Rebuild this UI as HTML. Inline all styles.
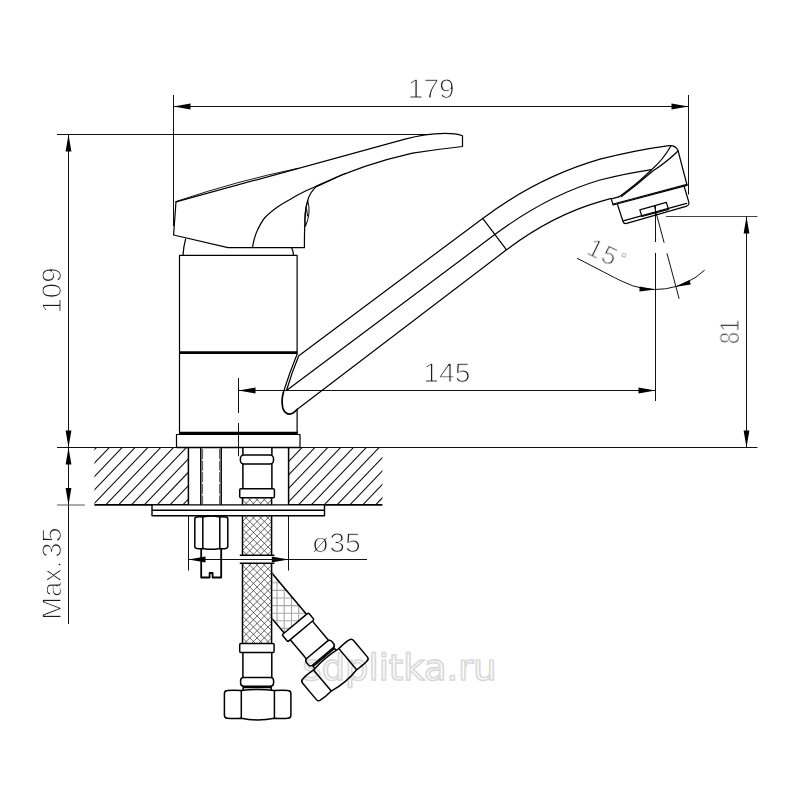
<!DOCTYPE html>
<html lang="en"><head><meta charset="utf-8"><title>Faucet dimensions</title>
<style>
html,body{margin:0;padding:0;background:#fff;}
body{width:800px;height:800px;overflow:hidden;}
svg{display:block}
.d{font-family:"Liberation Sans","DejaVu Sans",sans-serif;font-size:27.2px;fill:#1c1c1c;stroke:#fff;stroke-width:1.08px;text-rendering:geometricPrecision;}
.wm{font-family:"DejaVu Sans","Liberation Sans",sans-serif;font-size:36px;fill:none;stroke:#d9d9d9;stroke-width:1.6px;text-rendering:geometricPrecision;}
</style></head><body>
<svg width="800" height="800" viewBox="0 0 800 800">
<rect width="800" height="800" fill="#fff"/>

<defs>
<clipPath id="cL"><rect x="94.4" y="447.3" width="93.8" height="57.5"/></clipPath>
<clipPath id="cR"><rect x="288.7" y="447.3" width="93.7" height="57.5"/></clipPath>
<clipPath id="cH1"><rect x="242.5" y="497.7" width="29.10" height="7"/><rect x="242.5" y="515.8" width="29.10" height="39.7"/><rect x="242.5" y="563.2" width="29.10" height="80"/></clipPath>
<clipPath id="cH2"><rect x="242.5" y="540" width="29.10" height="103.3"/></clipPath>
<clipPath id="cX"><rect x="272.3" y="540" width="200" height="200"/></clipPath>
</defs>
<g stroke="#0a0a0a" stroke-width="1.05" fill="none">
<g clip-path="url(#cL)">
<line x1="24.87" y1="508.80" x2="87.73" y2="443.20"/>
<line x1="37.72" y1="508.80" x2="100.58" y2="443.20"/>
<line x1="50.57" y1="508.80" x2="113.43" y2="443.20"/>
<line x1="63.42" y1="508.80" x2="126.28" y2="443.20"/>
<line x1="76.27" y1="508.80" x2="139.13" y2="443.20"/>
<line x1="89.12" y1="508.80" x2="151.98" y2="443.20"/>
<line x1="101.97" y1="508.80" x2="164.83" y2="443.20"/>
<line x1="114.82" y1="508.80" x2="177.68" y2="443.20"/>
<line x1="127.67" y1="508.80" x2="190.53" y2="443.20"/>
<line x1="140.52" y1="508.80" x2="203.38" y2="443.20"/>
<line x1="153.37" y1="508.80" x2="216.23" y2="443.20"/>
<line x1="166.22" y1="508.80" x2="229.08" y2="443.20"/>
<line x1="179.07" y1="508.80" x2="241.93" y2="443.20"/>
<line x1="191.92" y1="508.80" x2="254.78" y2="443.20"/>
</g>
<g clip-path="url(#cR)">
<line x1="217.62" y1="508.80" x2="280.48" y2="443.20"/>
<line x1="230.47" y1="508.80" x2="293.33" y2="443.20"/>
<line x1="243.32" y1="508.80" x2="306.18" y2="443.20"/>
<line x1="256.17" y1="508.80" x2="319.03" y2="443.20"/>
<line x1="269.02" y1="508.80" x2="331.88" y2="443.20"/>
<line x1="281.87" y1="508.80" x2="344.73" y2="443.20"/>
<line x1="294.72" y1="508.80" x2="357.58" y2="443.20"/>
<line x1="307.57" y1="508.80" x2="370.43" y2="443.20"/>
<line x1="320.42" y1="508.80" x2="383.28" y2="443.20"/>
<line x1="333.27" y1="508.80" x2="396.13" y2="443.20"/>
<line x1="346.12" y1="508.80" x2="408.98" y2="443.20"/>
<line x1="358.97" y1="508.80" x2="421.83" y2="443.20"/>
<line x1="371.82" y1="508.80" x2="434.68" y2="443.20"/>
<line x1="384.67" y1="508.80" x2="447.53" y2="443.20"/>
</g>
</g>
<g stroke="#111" stroke-width="1" fill="none">
<line x1="173.5" y1="106.5" x2="688.5" y2="106.5"/>
<line x1="173.5" y1="95" x2="173.5" y2="226"/>
<line x1="688.5" y1="95" x2="688.5" y2="194.5"/>
<line x1="57" y1="134.5" x2="432" y2="134.5"/>
<line x1="68.5" y1="134.5" x2="68.5" y2="624"/>
<line x1="57" y1="447.5" x2="757.5" y2="447.5"/>
<line x1="57" y1="505" x2="84.8" y2="505" stroke="#555"/>
<line x1="238.5" y1="390.5" x2="655.5" y2="390.5"/>
<line x1="238.5" y1="378" x2="238.5" y2="413"/>
<line x1="238.5" y1="423" x2="238.5" y2="456.3"/>
<line x1="655.5" y1="206" x2="655.5" y2="242"/>
<line x1="655.5" y1="253" x2="655.5" y2="401"/>
<line x1="666" y1="216.5" x2="757.5" y2="216.5" stroke="#444"/>
<line x1="746.5" y1="216.5" x2="746.5" y2="447.5"/>
<line x1="188.5" y1="559.5" x2="367" y2="559.5"/>
<line x1="188.5" y1="515.8" x2="188.5" y2="570.5"/>
<line x1="288.5" y1="515.8" x2="288.5" y2="570.5"/>
<path d="M577,258.2 L614.81,277.75 Q619.81,280.25 622.81,281.65 A72,72 0 0 0 704.60,270.16"/>
<line x1="654.30" y1="206.00" x2="664.14" y2="242.71"/>
<line x1="666.98" y1="253.33" x2="679.15" y2="298.73"/>
</g>
<g fill="#000" stroke="none">
<polygon points="173.50,106.50 190.50,103.60 190.50,109.40"/>
<polygon points="688.50,106.50 671.50,109.40 671.50,103.60"/>
<polygon points="68.50,134.50 71.40,151.50 65.60,151.50"/>
<polygon points="68.50,447.50 65.60,430.50 71.40,430.50"/>
<polygon points="68.50,447.50 71.40,464.50 65.60,464.50"/>
<polygon points="68.50,505.00 65.60,488.00 71.40,488.00"/>
<polygon points="238.50,390.50 255.50,387.60 255.50,393.40"/>
<polygon points="655.50,390.50 638.50,393.40 638.50,387.60"/>
<polygon points="746.50,216.50 749.40,233.50 743.60,233.50"/>
<polygon points="746.50,447.50 743.60,430.50 749.40,430.50"/>
<polygon points="188.50,559.50 205.50,556.60 205.50,562.40"/>
<polygon points="288.50,559.50 271.50,562.40 271.50,556.60"/>
<polygon points="655.50,289.50 639.44,291.42 639.58,286.62"/>
<polygon points="674.74,286.88 689.38,279.99 690.76,284.58"/>
</g>
<g stroke="#000" stroke-width="1.2" fill="none" stroke-linejoin="round" stroke-linecap="round">
<path d="M176,201.6 L173.6,235 L228,247.6 L304.3,247.6"/>
<path d="M176,201.9 L405,139.2 Q425,133.7 445,133.4 Q456,133.4 462.5,135.8 L462.5,146.5 Q438,149.2 412.5,153.2 Q362,164.5 317.5,185.6"/>
<path d="M177,201.2 Q236,181.2 298,168.3" stroke-width="0.9"/>
<path d="M317.5,186.4 L345,173.6" stroke-width="1"/>
<path d="M317.50,185.60 C315.00,186.75 307.08,190.20 302.50,192.50 C297.92,194.80 294.17,197.00 290.00,199.40 C285.83,201.80 281.67,203.88 277.50,206.90 C273.33,209.92 268.33,213.65 265.00,217.50 C261.67,221.35 259.33,226.25 257.50,230.00 C255.67,233.75 254.83,237.07 254.00,240.00 C253.17,242.93 252.75,246.33 252.50,247.60"/>
<path d="M317.5,185.6 Q309.5,192 307.2,202 Q304.4,212 304.4,247.6"/>
<path d="M307.8,201 Q311.4,213 305.4,226.5 Q303.4,213 307.8,201 M306.6,209 L307.6,216" stroke-width="1"/>
<path d="M185.6,239 Q183.4,247 183,255.4"/>
<path d="M291.6,247.6 Q293.2,251 293.6,255.4"/>
<path d="M297.1,354.5 L297.1,255.4 L179.5,255.4 L179.5,432.5"/>
<path d="M297.1,410 L297.1,432.5"/>
<path d="M176.5,447.3 L176.5,434.5 L300,434.5 L300,447.3"/>
</g>
<g stroke="#000" fill="none">
<line x1="179.5" y1="352.6" x2="297.3" y2="352.7" stroke-width="2.7"/>
<line x1="179" y1="433.1" x2="297.8" y2="433.1" stroke-width="2.9"/>
<line x1="176.5" y1="447.5" x2="300" y2="447.5" stroke-width="1.5"/>
</g>
<g stroke="#000" stroke-width="1.2" fill="none" stroke-linejoin="round" stroke-linecap="round">
<path d="M298.5,356 L482.7,218.4 Q538,177.2 600,159.2 Q636,150 669,145.6 Q675.5,145 678,150.5 L687,185"/>
<path d="M286.5,390.5 L494.8,234.6 Q547,195.6 600,180 Q628,173 651.5,169.6"/>
<path d="M297,409.5 L506.5,249.8 Q552,215.4 600,201.6 L611.3,198.4"/>
<path d="M482.7,218.4 L506.5,249.8"/>
<path d="M296.8,355 Q289.3,373 283.5,392"/>
<path d="M298.5,356.6 Q291.6,373 286.5,390.5"/>
<path d="M283.5,392 Q281.1,400 282.8,408 Q284.6,413.8 289.5,414.2 Q293,414 297,409.5" stroke-width="1.7"/>
<path d="M611.3,198.8 L613.1,205 L687,185.4"/>
<path d="M613.4,204 L687,184.4"/>
<path d="M611.3,198.8 L618.8,196.9"/>
<path d="M671,145.8 Q663,160 651.3,170 Q636,185 618.8,196.9"/>
<path d="M678,151 Q668,161 652.5,171.3 Q638,184 621.5,196.6"/>
<path d="M617.5,204.5 L623,221.5 Q623.6,223.6 625.8,223.6 L686,206.4 Q689.6,205 688.8,202 L684.2,186.5"/>
<path d="M623.2,220.8 L686.6,203.4"/>
<path d="M639.8,209.8 L666.3,202.3 L668.5,209.4 L641.9,216.5 Z"/>
</g>
<g style="opacity:.999"><text class="wm" x="302.6" y="679.6" textLength="194" lengthAdjust="spacingAndGlyphs">sdplitka.ru</text></g>
<g clip-path="url(#cX)">
<g transform="translate(295.2 623.8) rotate(-40) translate(-256.9 -643.5)" stroke="#000" stroke-width="1.5" fill="none" stroke-linejoin="round">
<g clip-path="url(#cH2)"><g transform="translate(256.9 643.5) rotate(40) translate(-295.2 -623.8)" stroke="#a8a8a8" stroke-width="1.1">
<line x1="277.00" y1="560" x2="277.00" y2="650"/>
<line x1="284.24" y1="560" x2="284.24" y2="650"/>
<line x1="291.48" y1="560" x2="291.48" y2="650"/>
<line x1="298.72" y1="560" x2="298.72" y2="650"/>
<line x1="305.96" y1="560" x2="305.96" y2="650"/>
<line x1="313.20" y1="560" x2="313.20" y2="650"/>
<line x1="320.44" y1="560" x2="320.44" y2="650"/>
<line x1="327.68" y1="560" x2="327.68" y2="650"/>
<line x1="265" y1="582.80" x2="330" y2="582.80"/>
<line x1="265" y1="590.40" x2="330" y2="590.40"/>
<line x1="265" y1="598.00" x2="330" y2="598.00"/>
<line x1="265" y1="605.60" x2="330" y2="605.60"/>
<line x1="265" y1="613.20" x2="330" y2="613.20"/>
<line x1="265" y1="620.80" x2="330" y2="620.80"/>
<line x1="265" y1="628.40" x2="330" y2="628.40"/>
<line x1="265" y1="636.00" x2="330" y2="636.00"/>
<line x1="265" y1="643.60" x2="330" y2="643.60"/>
</g></g>
<path d="M242.5,540 L242.5,643.5 M271.6,540 L271.6,643.5"/>
<rect x="239.7" y="643.5" width="34.4" height="9" rx="1.3"/><path d="M242.9,652.5 L242.9,677.5 M271.8,652.5 L271.8,677.5"/><rect x="240.6" y="677.5" width="33" height="8.8" rx="3.2"/><path d="M243.2,686.3 L243.2,690 M271.2,686.3 L271.2,690 M243.2,687.6 L271.2,687.6"/><path d="M227.4,690.6 Q233,689.8 241.3,690.6 Q257.8,688.2 274.4,690.6 Q283,689.8 287.9,690.6 Q290.9,690.8 290.9,693.8 L290.9,715.2 Q290.9,718 287.9,718.2 Q283,719 274.4,718.2 Q257.8,721.6 241.3,718.2 Q233,719 227.4,718.2 Q224.4,718 224.4,715.2 L224.4,693.8 Q224.4,690.8 227.4,690.6 Z"/><path d="M241.3,690.6 L241.3,718.2 M274.4,690.6 L274.4,718.2"/>
</g></g>
<g stroke="#000" stroke-width="1.5" fill="#fff" stroke-linejoin="round">
<rect x="242.5" y="448.3" width="29.10" height="195" stroke="none" fill="#fff"/>
<path d="M242.9,448 L242.9,455 M271.9,448 L271.9,455"/>
<rect x="240.4" y="455" width="33.1" height="9" rx="3.5"/>
<path d="M242.9,464 L242.9,488.8 M271.9,464 L271.9,488.8"/>
<rect x="239.7" y="488.8" width="34.7" height="9" rx="1.3"/>
<g clip-path="url(#cH1)" stroke="#2e2e2e" stroke-width="0.72"><line x1="242.5" y1="456.05" x2="271.6" y2="485.15"/><line x1="271.6" y1="456.05" x2="242.5" y2="485.15"/><line x1="242.5" y1="463.32" x2="271.6" y2="492.42"/><line x1="271.6" y1="463.32" x2="242.5" y2="492.42"/><line x1="242.5" y1="470.60" x2="271.6" y2="499.70"/><line x1="271.6" y1="470.60" x2="242.5" y2="499.70"/><line x1="242.5" y1="477.88" x2="271.6" y2="506.98"/><line x1="271.6" y1="477.88" x2="242.5" y2="506.98"/><line x1="242.5" y1="485.15" x2="271.6" y2="514.25"/><line x1="271.6" y1="485.15" x2="242.5" y2="514.25"/><line x1="242.5" y1="492.42" x2="271.6" y2="521.52"/><line x1="271.6" y1="492.42" x2="242.5" y2="521.52"/><line x1="242.5" y1="499.70" x2="271.6" y2="528.80"/><line x1="271.6" y1="499.70" x2="242.5" y2="528.80"/><line x1="242.5" y1="506.98" x2="271.6" y2="536.08"/><line x1="271.6" y1="506.98" x2="242.5" y2="536.08"/><line x1="242.5" y1="514.25" x2="271.6" y2="543.35"/><line x1="271.6" y1="514.25" x2="242.5" y2="543.35"/><line x1="242.5" y1="521.52" x2="271.6" y2="550.62"/><line x1="271.6" y1="521.52" x2="242.5" y2="550.62"/><line x1="242.5" y1="528.80" x2="271.6" y2="557.90"/><line x1="271.6" y1="528.80" x2="242.5" y2="557.90"/><line x1="242.5" y1="536.08" x2="271.6" y2="565.18"/><line x1="271.6" y1="536.08" x2="242.5" y2="565.18"/><line x1="242.5" y1="543.35" x2="271.6" y2="572.45"/><line x1="271.6" y1="543.35" x2="242.5" y2="572.45"/><line x1="242.5" y1="550.62" x2="271.6" y2="579.73"/><line x1="271.6" y1="550.62" x2="242.5" y2="579.73"/><line x1="242.5" y1="557.90" x2="271.6" y2="587.00"/><line x1="271.6" y1="557.90" x2="242.5" y2="587.00"/><line x1="242.5" y1="565.18" x2="271.6" y2="594.28"/><line x1="271.6" y1="565.18" x2="242.5" y2="594.28"/><line x1="242.5" y1="572.45" x2="271.6" y2="601.55"/><line x1="271.6" y1="572.45" x2="242.5" y2="601.55"/><line x1="242.5" y1="579.73" x2="271.6" y2="608.83"/><line x1="271.6" y1="579.73" x2="242.5" y2="608.83"/><line x1="242.5" y1="587.00" x2="271.6" y2="616.10"/><line x1="271.6" y1="587.00" x2="242.5" y2="616.10"/><line x1="242.5" y1="594.28" x2="271.6" y2="623.38"/><line x1="271.6" y1="594.28" x2="242.5" y2="623.38"/><line x1="242.5" y1="601.55" x2="271.6" y2="630.65"/><line x1="271.6" y1="601.55" x2="242.5" y2="630.65"/><line x1="242.5" y1="608.83" x2="271.6" y2="637.93"/><line x1="271.6" y1="608.83" x2="242.5" y2="637.93"/><line x1="242.5" y1="616.10" x2="271.6" y2="645.20"/><line x1="271.6" y1="616.10" x2="242.5" y2="645.20"/><line x1="242.5" y1="623.38" x2="271.6" y2="652.48"/><line x1="271.6" y1="623.38" x2="242.5" y2="652.48"/><line x1="242.5" y1="630.65" x2="271.6" y2="659.75"/><line x1="271.6" y1="630.65" x2="242.5" y2="659.75"/><line x1="242.5" y1="637.93" x2="271.6" y2="667.03"/><line x1="271.6" y1="637.93" x2="242.5" y2="667.03"/><line x1="242.5" y1="645.20" x2="271.6" y2="674.30"/><line x1="271.6" y1="645.20" x2="242.5" y2="674.30"/><line x1="242.5" y1="652.48" x2="271.6" y2="681.58"/><line x1="271.6" y1="652.48" x2="242.5" y2="681.58"/><line x1="242.5" y1="659.75" x2="271.6" y2="688.85"/><line x1="271.6" y1="659.75" x2="242.5" y2="688.85"/><line x1="242.5" y1="667.03" x2="271.6" y2="696.13"/><line x1="271.6" y1="667.03" x2="242.5" y2="696.13"/><line x1="242.5" y1="674.30" x2="271.6" y2="703.40"/><line x1="271.6" y1="674.30" x2="242.5" y2="703.40"/><line x1="242.5" y1="681.58" x2="271.6" y2="710.68"/><line x1="271.6" y1="681.58" x2="242.5" y2="710.68"/><line x1="242.5" y1="688.85" x2="271.6" y2="717.95"/><line x1="271.6" y1="688.85" x2="242.5" y2="717.95"/></g>
<path d="M242.5,497.7 L242.5,505 M271.6,497.7 L271.6,505 M242.5,515.8 L242.5,555.5 M271.6,515.8 L271.6,555.5 M242.5,563.2 L242.5,643.5 M271.6,563.2 L271.6,643.5"/>
<path d="M239.8,555.3 L274.4,555.3 M239.8,563.3 L274.4,563.3" stroke-width="1.5"/>
<line x1="236" y1="559.5" x2="280" y2="559.5" stroke="#111" stroke-width="1"/>
<rect x="239.7" y="643.5" width="34.4" height="9" rx="1.3"/><path d="M242.9,652.5 L242.9,677.5 M271.8,652.5 L271.8,677.5"/><rect x="240.6" y="677.5" width="33" height="8.8" rx="3.2"/><path d="M243.2,686.3 L243.2,690 M271.2,686.3 L271.2,690 M243.2,687.6 L271.2,687.6"/><path d="M227.4,690.6 Q233,689.8 241.3,690.6 Q257.8,688.2 274.4,690.6 Q283,689.8 287.9,690.6 Q290.9,690.8 290.9,693.8 L290.9,715.2 Q290.9,718 287.9,718.2 Q283,719 274.4,718.2 Q257.8,721.6 241.3,718.2 Q233,719 227.4,718.2 Q224.4,718 224.4,715.2 L224.4,693.8 Q224.4,690.8 227.4,690.6 Z"/><path d="M241.3,690.6 L241.3,718.2 M274.4,690.6 L274.4,718.2"/>
</g>
<g stroke="#000" stroke-width="1.5" fill="none" stroke-linejoin="round">
<line x1="94.4" y1="504.9" x2="188.4" y2="504.9" stroke-width="1.7"/>
<line x1="288.6" y1="504.9" x2="382.4" y2="504.9" stroke-width="1.7"/>
<line x1="188.4" y1="447.3" x2="188.4" y2="504.9"/>
<line x1="288.6" y1="447.3" x2="288.6" y2="504.9"/>
<rect x="152" y="504.9" width="172.5" height="10.9" fill="#fff" stroke-width="1.4"/>
<line x1="152" y1="510.3" x2="324.5" y2="510.3" stroke-width="1.4"/>
<line x1="200.8" y1="447.3" x2="200.8" y2="504.9"/>
<line x1="221.2" y1="447.3" x2="221.2" y2="504.9"/>
<line x1="202.6" y1="449" x2="202.6" y2="504" stroke-dasharray="10 1.6" stroke-width="0.9" stroke="#444"/>
<line x1="219.6" y1="449" x2="219.6" y2="504" stroke-dasharray="10 1.6" stroke-width="0.9" stroke="#444"/>
<path d="M196.8,517 Q199.5,516.4 202.8,517 Q211.3,515.2 219.8,517 Q223,516.4 225.8,517 Q227.8,517.2 227.8,519.2 L227.8,546.3 Q227.8,548.2 225.8,548.4 Q223,549 219.8,548.4 Q211.3,550.2 202.8,548.4 Q199.5,549 196.8,548.4 Q194.8,548.2 194.8,546.3 L194.8,519.2 Q194.8,517.2 196.8,517 Z"/>
<path d="M202.8,517 L202.8,548.4 M219.8,517 L219.8,548.4"/>
<path d="M201.2,548.8 L201.2,577.5 L209.6,577.5 L209.6,573 L212.6,573 L212.6,577.5 L221.2,577.5 L221.2,548.8" stroke-width="1.8"/>
</g>
<g style="opacity:.999">
<text class="d" x="431.3" y="98.4" text-anchor="middle" textLength="47" lengthAdjust="spacingAndGlyphs">179</text>
<text class="d" x="446.9" y="382" text-anchor="middle" textLength="47.2" lengthAdjust="spacingAndGlyphs">145</text>
<text class="d" transform="translate(60.6 290.5) rotate(-90)" text-anchor="middle" textLength="46" lengthAdjust="spacingAndGlyphs">109</text>
<text class="d" transform="translate(61 573.6) rotate(-90)" text-anchor="middle" textLength="92.3" lengthAdjust="spacingAndGlyphs" style="word-spacing:-4.5px">Max. 35</text>
<text class="d" transform="translate(738.8 331.8) rotate(-90)" text-anchor="middle" textLength="24.5" lengthAdjust="spacingAndGlyphs">81</text>
<text class="d" x="336.3" y="551.6" text-anchor="middle" textLength="49" lengthAdjust="spacingAndGlyphs">ø35</text>
<text class="d" transform="translate(585.2 253.2) rotate(26)" style="font-size:25.6px">1<tspan dx="1.6">5</tspan><tspan dx="2.4" dy="-5.6" style="font-size:16.5px;stroke-width:.5px">°</tspan></text>
</g>
</svg></body></html>
